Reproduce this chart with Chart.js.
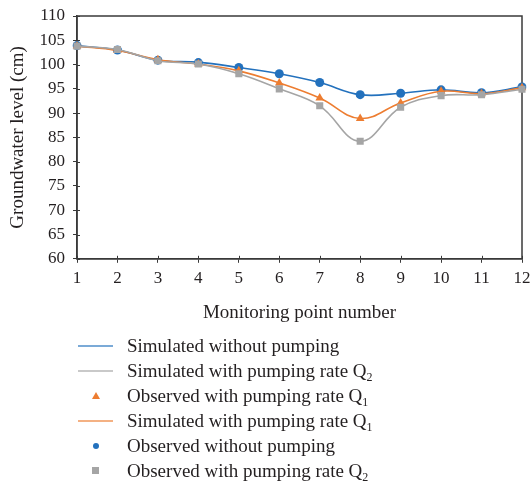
<!DOCTYPE html>
<html>
<head>
<meta charset="utf-8">
<script src="https://cdn.jsdelivr.net/npm/chart.js@4"></script>
<style>
  html, body { margin: 0; padding: 0; background: #fff; }
  #wrap { position: relative; width: 531px; height: 493px; }
  #legend {
    position: absolute; left: 78px; top: 333px;
    font-family: "Liberation Serif", serif; font-size: 19px; color: #231f20;
  }
  .row { height: 25px; display: flex; align-items: center; }
  .sw { width: 35px; height: 25px; display: flex; justify-content: center; align-items: center; margin-right: 14px; }
  .line { width: 35px; height: 2px; opacity: 0.6; }
  .dot { width: 6px; height: 6px; border-radius: 50%; }
  .sq { width: 7px; height: 7px; }
  .tri { width: 0; height: 0; border-left: 4px solid transparent; border-right: 4px solid transparent; border-bottom: 7px solid; }
  sub { font-size: 12px; vertical-align: -4px; line-height: 0; }
</style>
</head>
<body>
<div id="wrap">
  <canvas id="chartCanvas" width="531" height="493"></canvas>
  <div id="legend"></div>
</div>
<script>
// monitoring points 1..12
const points = ['1', '2', '3', '4', '5', '6', '7', '8', '9', '10', '11', '12'];
const yTicks = [60, 65, 70, 75, 80, 85, 90, 95, 100, 105, 110];

// groundwater level (cm)
const simNoPump = [103.9, 103.0, 100.9, 100.5, 99.4, 98.1, 96.3, 93.8, 94.1, 94.8, 94.2, 95.4];
const obsNoPump = [103.9, 103.0, 100.9, 100.4, 99.4, 98.1, 96.3, 93.8, 94.1, 94.8, 94.2, 95.4];
const simQ1 = [103.8, 102.9, 101.0, 100.1, 98.7, 96.2, 93.1, 88.9, 92.1, 94.5, 94.0, 95.2];
const obsQ1 = [103.8, 102.9, 101.0, 100.1, 98.7, 96.2, 93.1, 88.9, 92.1, 94.5, 94.0, 95.2];
const simQ2 = [103.8, 103.1, 100.8, 100.1, 98.1, 95.0, 91.5, 84.2, 91.2, 93.6, 93.8, 94.9];
const obsQ2 = [103.8, 103.1, 100.8, 100.1, 98.1, 95.0, 91.5, 84.2, 91.2, 93.6, 93.8, 94.9];

const BLUE = '#2371BD';
const ORANGE = '#ED7D31';
const GRAY = '#A5A5A5';
const AXIS = '#3a3a3a';
const INK = '#231f20';
const FONT = '"Liberation Serif", serif';

function simLine(label, sub, data, color, order) {
  return {
    label, sub, data, order,
    borderColor: color, backgroundColor: color,
    borderWidth: 1.6, pointRadius: 0, tension: 0.4, fill: false
  };
}

function obsPoints(label, sub, data, color, style, radius, order) {
  return {
    label, sub, data, order,
    showLine: false, borderColor: color, backgroundColor: color,
    pointStyle: style, pointRadius: radius, pointBorderWidth: 0
  };
}

// datasets in legend order
const datasets = [
  simLine('Simulated without pumping', '', simNoPump, BLUE, 6),
  simLine('Simulated with pumping rate Q', '2', simQ2, GRAY, 2),
  obsPoints('Observed with pumping rate Q', '1', obsQ1, ORANGE, 'triangle', 5, 3),
  simLine('Simulated with pumping rate Q', '1', simQ1, ORANGE, 4),
  obsPoints('Observed without pumping', '', obsNoPump, BLUE, 'circle', 4.5, 5),
  obsPoints('Observed with pumping rate Q', '2', obsQ2, GRAY, 'rect', 5, 1)
];

// box around the plot area, with the tick marks crossing into it
const frame = {
  id: 'frame',
  beforeDatasetsDraw(chart) {
    const a = chart.chartArea, c = chart.ctx;
    const x = chart.scales.x, y = chart.scales.y;
    c.save();
    c.strokeStyle = AXIS;
    c.lineWidth = 1.5;
    c.strokeRect(a.left, a.top, a.right - a.left, a.bottom - a.top);
    c.lineWidth = 1;
    c.beginPath();
    x.ticks.forEach((t, i) => {
      const px = Math.round(x.getPixelForTick(i)) + 0.5;
      c.moveTo(px, a.bottom);
      c.lineTo(px, a.bottom - 3);
    });
    y.ticks.forEach(t => {
      const py = Math.round(y.getPixelForValue(t.value)) + 0.5;
      c.moveTo(a.left, py);
      c.lineTo(a.left + 3, py);
    });
    c.stroke();
    c.restore();
  }
};

const ctx = document.querySelector('#chartCanvas');

const chart = new Chart(ctx, {
  type: 'line',
  data: { labels: points, datasets },
  plugins: [frame],
  options: {
    responsive: false,
    animation: false,
    layout: { padding: { left: 5, right: 9, top: 16, bottom: 169 } },
    plugins: {
      legend: { display: false },
      tooltip: { enabled: false }
    },
    scales: {
      x: {
        type: 'category',
        offset: false,
        afterFit: s => { s.paddingLeft = 0; s.paddingRight = 0; },
        grid: { drawOnChartArea: false, tickLength: 4, color: AXIS },
        border: { color: AXIS, width: 1.5 },
        ticks: { color: INK, font: { family: FONT, size: 17 }, padding: 6, maxRotation: 0, autoSkip: false },
        title: { display: true, text: 'Monitoring point number', color: INK, font: { family: FONT, size: 19 }, padding: { top: 6, bottom: 0 } }
      },
      y: {
        min: 60, max: 110,
        afterBuildTicks: s => { s.ticks = yTicks.map(v => ({ value: v })); },
        afterFit: s => { s.width = 72; s.paddingTop = 0; s.paddingBottom = 0; },
        grid: { drawOnChartArea: false, tickLength: 4, color: AXIS },
        border: { color: AXIS, width: 1.5 },
        ticks: { color: INK, font: { family: FONT, size: 17 }, padding: 8, autoSkip: false },
        title: { display: true, text: 'Groundwater level (cm)', color: INK, font: { family: FONT, size: 19 }, padding: { top: 2, bottom: 0 } }
      }
    }
  }
});

// vertical legend below the chart
const legend = document.getElementById('legend');
chart.data.datasets.forEach(ds => {
  const row = document.createElement('div');
  row.className = 'row';
  const sw = document.createElement('div');
  sw.className = 'sw';
  const mark = document.createElement('div');
  if (ds.showLine === false) {
    if (ds.pointStyle === 'triangle') { mark.className = 'tri'; mark.style.borderBottomColor = ds.borderColor; }
    else if (ds.pointStyle === 'rect') { mark.className = 'sq'; mark.style.background = ds.backgroundColor; }
    else { mark.className = 'dot'; mark.style.background = ds.backgroundColor; }
  } else {
    mark.className = 'line';
    mark.style.background = ds.borderColor;
  }
  sw.appendChild(mark);
  const txt = document.createElement('span');
  txt.textContent = ds.label;
  if (ds.sub) {
    const s = document.createElement('sub');
    s.textContent = ds.sub;
    txt.appendChild(s);
  }
  row.appendChild(sw);
  row.appendChild(txt);
  legend.appendChild(row);
});
</script>
</body>
</html>
